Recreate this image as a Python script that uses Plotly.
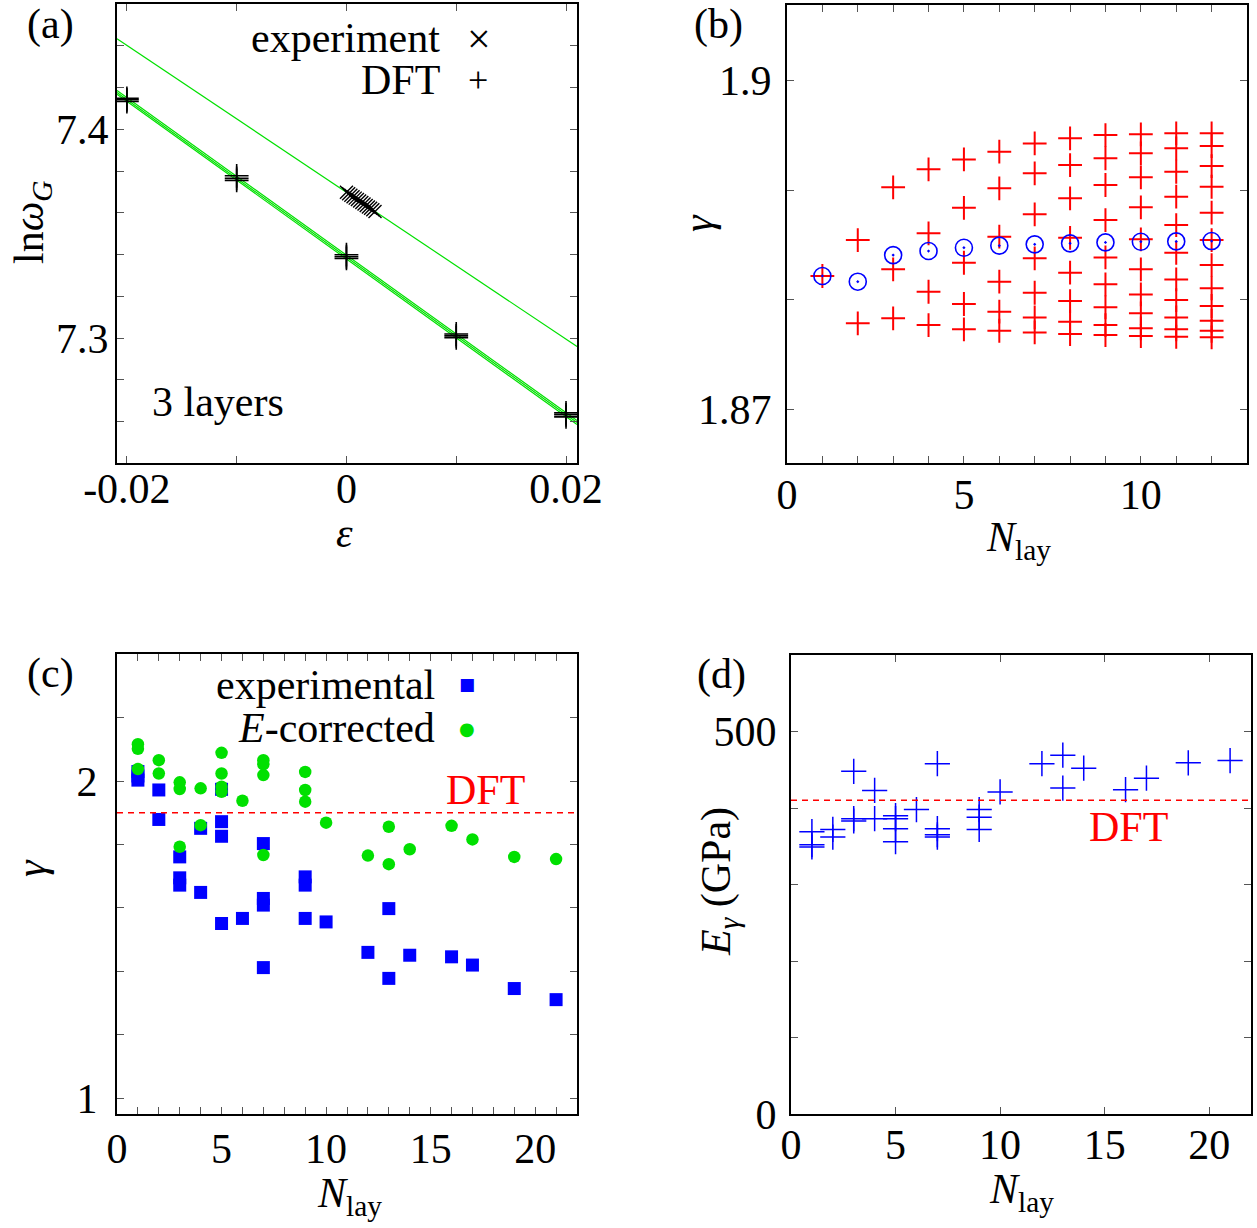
import numpy as np
import plotly.graph_objects as go

W, H = 1257, 1228
FONT = "Liberation Serif"
GREEN = "#00e000"

# ---------------- panel (a) data ----------------
strain = [-0.02, -0.01, 0.0, 0.01, 0.02]
dft_lnw_1 = [7.4149, 7.3778, 7.3400, 7.3020, 7.2642]
dft_lnw_2 = [7.4142, 7.3766, 7.3390, 7.3011, 7.2633]
dft_lnw_3 = [7.4134, 7.3756, 7.3382, 7.3002, 7.2623]
exp_strain = [0.0000, 0.0002, 0.0004, 0.0006, 0.0008, 0.0010, 0.0012,
              0.0014, 0.0016, 0.0018, 0.0020, 0.0022, 0.0024, 0.0026]
exp_lnw = [7.3699, 7.3692, 7.3685, 7.3678, 7.3671, 7.3664, 7.3657,
           7.3650, 7.3643, 7.3636, 7.3629, 7.3622, 7.3615, 7.3607]
exp_fit_intercept = 7.3699
exp_fit_slope = -3.52
eps_range = [-0.0209, 0.0210]

# ---------------- panel (b) data ----------------
nlay_b = [1, 2, 3, 4, 5, 6, 7, 8, 9, 10, 11, 12]
gamma_mean = [1.88215, 1.88163, 1.88406, 1.88443, 1.88473, 1.88492,
              1.88504, 1.88513, 1.88522, 1.88528, 1.88531, 1.88534]
gamma_modes = [
    [1.88215],
    [1.88543, 1.87783],
    [1.89025, 1.88276, 1.87828],
    [1.89189, 1.88605, 1.88071, 1.87767],
    [1.89280, 1.88838, 1.88336, 1.87959, 1.87728],
    [1.89350, 1.89016, 1.88574, 1.88163, 1.87889, 1.87715],
    [1.89426, 1.89153, 1.88778, 1.88376, 1.88062, 1.87837, 1.87700],
    [1.89472, 1.89228, 1.88924, 1.88564, 1.88245, 1.87986, 1.87797, 1.87685],
    [1.89502, 1.89290, 1.89046, 1.88726, 1.88385, 1.88139, 1.87929, 1.87767, 1.87676],
    [1.89509, 1.89335, 1.89116, 1.88842, 1.88550, 1.88276, 1.88047, 1.87874, 1.87737, 1.87667],
    [1.89518, 1.89381, 1.89167, 1.88939, 1.88680, 1.88427, 1.88184, 1.87995, 1.87837, 1.87728, 1.87660],
    [1.89518, 1.89402, 1.89219, 1.89030, 1.88793, 1.88543, 1.88315, 1.88102, 1.87941, 1.87806, 1.87715, 1.87655],
]

# ---------------- panel (c) data ----------------
nlay_exp = [1, 1, 1, 2, 2, 3, 3, 3, 4, 4, 5, 5, 5, 5, 6, 7, 7, 7, 7, 9, 9, 9,
            10, 12, 13, 13, 14, 16, 17, 19, 21]
gamma_exp = [2.030, 2.016, 2.003, 1.972, 1.879, 1.761, 1.695, 1.672, 1.851, 1.649,
             1.974, 1.872, 1.826, 1.551, 1.567, 1.803, 1.630, 1.609, 1.412,
             1.698, 1.672, 1.567, 1.556, 1.460, 1.598, 1.378, 1.451, 1.446,
             1.420, 1.346, 1.311]
nlay_corr = [1, 1, 1, 2, 2, 3, 3, 3, 4, 4, 5, 5, 5, 5, 6, 7, 7, 7, 7, 9, 9, 9,
             10, 12, 13, 13, 14, 16, 17, 19, 21]
gamma_corr = [2.116, 2.102, 2.038, 2.066, 2.024, 1.996, 1.975, 1.793, 1.977, 1.861,
              2.089, 2.024, 1.982, 1.966, 1.938, 2.066, 2.053, 2.019, 1.767,
              2.029, 1.972, 1.935, 1.869, 1.765, 1.856, 1.738, 1.785, 1.859,
              1.816, 1.761, 1.754]
gamma_dft = 1.90

# ---------------- panel (d) data ----------------
nlay_E = [1, 1, 1, 2, 2, 3, 3, 3, 4, 4, 5, 5, 5, 5, 6, 7, 7, 7, 7, 9, 9, 9,
          10, 12, 13, 13, 14, 16, 17, 19, 21]
E_gamma = [369, 352, 349, 372, 362, 448, 386, 383, 423, 386, 390, 386, 373, 356,
           398, 458, 373, 365, 362, 398, 388, 372, 421, 458, 469, 426, 452,
           424, 439, 459, 462]
E_dft = 410


def px(x):
    return x / W


def py(y):
    return 1 - y / H


fig = go.Figure()

# ---- (a) ----
xs_line = np.array(eps_range)
for ser in (dft_lnw_1, dft_lnw_2, dft_lnw_3):
    slope, icpt = np.polyfit(strain, ser, 1)
    fig.add_trace(go.Scatter(x=xs_line, y=icpt + slope * xs_line, mode="lines",
                             line=dict(color=GREEN, width=1.2), xaxis="x", yaxis="y",
                             showlegend=False, hoverinfo="skip"))
fig.add_trace(go.Scatter(x=xs_line, y=exp_fit_intercept + exp_fit_slope * xs_line,
                         mode="lines", line=dict(color=GREEN, width=1.2),
                         xaxis="x", yaxis="y", showlegend=False, hoverinfo="skip"))
for ser in (dft_lnw_1, dft_lnw_2, dft_lnw_3):
    fig.add_trace(go.Scatter(x=strain, y=ser, mode="markers",
                             marker=dict(symbol="cross-thin", size=17,
                                         line=dict(color="black", width=1.6)),
                             xaxis="x", yaxis="y", showlegend=False))
fig.add_trace(go.Scatter(x=exp_strain, y=exp_lnw, mode="markers",
                         marker=dict(symbol="x-thin", size=13,
                                     line=dict(color="black", width=1.4)),
                         xaxis="x", yaxis="y", showlegend=False))

# ---- (b) ----
for n, modes in zip(nlay_b, gamma_modes):
    fig.add_trace(go.Scatter(x=[n] * len(modes), y=modes, mode="markers",
                             marker=dict(symbol="cross-thin", size=17,
                                         line=dict(color="#ff0000", width=2)),
                             xaxis="x2", yaxis="y2", showlegend=False))
fig.add_trace(go.Scatter(x=nlay_b, y=gamma_mean, mode="markers",
                         marker=dict(symbol="circle-open-dot", size=17, color="#0000ff",
                                     line=dict(color="#0000ff", width=1.6)),
                         xaxis="x2", yaxis="y2", showlegend=False))

# ---- (c) ----
fig.add_trace(go.Scatter(x=nlay_exp, y=gamma_exp, mode="markers",
                         marker=dict(symbol="square", size=13, color="#0000ff"),
                         xaxis="x3", yaxis="y3", showlegend=False))
fig.add_trace(go.Scatter(x=nlay_corr, y=gamma_corr, mode="markers",
                         marker=dict(symbol="circle", size=12.5, color=GREEN),
                         xaxis="x3", yaxis="y3", showlegend=False))

# ---- (d) ----
fig.add_trace(go.Scatter(x=nlay_E, y=E_gamma, mode="markers",
                         marker=dict(symbol="cross-thin", size=18,
                                     line=dict(color="#0000ff", width=1.5)),
                         xaxis="x4", yaxis="y4", showlegend=False))

# DFT dashed lines
fig.add_shape(type="line", xref="x3 domain", yref="y3", x0=0, x1=1, y0=gamma_dft, y1=gamma_dft,
              line=dict(color="#ff0000", width=1.5, dash="6px,5px"))
fig.add_shape(type="line", xref="x4 domain", yref="y4", x0=0, x1=1, y0=E_dft, y1=E_dft,
              line=dict(color="#ff0000", width=1.5, dash="6px,5px"))

tickfont = dict(family=FONT, size=42, color="black")


def axis(domain, rng, tickvals, ticktext, anchor, standoff=6):
    return dict(domain=domain, range=rng, tickvals=tickvals, ticktext=ticktext,
                anchor=anchor, showline=True, linecolor="black", linewidth=2,
                mirror="allticks", ticks="inside", ticklen=7, tickwidth=1.3,
                tickcolor="#555555", showgrid=False, zeroline=False, automargin=False,
                tickfont=tickfont, ticklabelstandoff=standoff)


a_ytv = [7.26, 7.28, 7.30, 7.32, 7.34, 7.36, 7.38, 7.40, 7.42, 7.44]
a_ytt = ["", "", "7.3", "", "", "", "", "7.4", "", ""]
b_xtv = list(range(0, 14))
b_xtt = ["0", "", "", "", "", "5", "", "", "", "", "10", "", "", ""]
c_xtv = list(range(0, 23))
c_xtt = [str(v) if v % 5 == 0 else "" for v in c_xtv]
c_ytv = [1.0, 1.2, 1.4, 1.6, 1.8, 2.0, 2.2]
c_ytt = ["1", "", "", "", "", "2", ""]

fig.update_layout(
    template="none",
    width=W, height=H, margin=dict(l=0, r=0, t=0, b=0, pad=0),
    paper_bgcolor="white", plot_bgcolor="white", showlegend=False,
    font=dict(family=FONT, color="black"),
    xaxis=axis([px(117), px(577)], eps_range, [-0.02, -0.01, 0, 0.01, 0.02],
               ["-0.02", "", "0", "", "0.02"], "y", -12),
    yaxis=axis([py(463), py(4)], [7.2402, 7.4601], a_ytv, a_ytt, "x", -2),
    xaxis2=axis([px(787), px(1247)], [0, 13], b_xtv, b_xtt, "y2", -6),
    yaxis2=axis([py(463), py(5)], [1.86507, 1.9069], [1.87, 1.88, 1.89, 1.90],
                ["1.87", "", "", "1.9"], "x2", 5),
    xaxis3=axis([px(117), px(577)], [0, 22], c_xtv, c_xtt, "y3", -3),
    yaxis3=axis([py(1114), py(654)], [0.9505, 2.4006], c_ytv, c_ytt, "x3", 9),
    xaxis4=axis([px(791), px(1251)], [0, 22], [0, 5, 10, 15, 20],
                ["0", "5", "10", "15", "20"], "y4", -7),
    yaxis4=axis([py(1114), py(655)], [0, 600], [0, 100, 200, 300, 400, 500, 600],
                ["0", "", "", "", "", "500", ""], "x4", 4),
)


def ann(x, y, text, size=42, color="black", xanchor="center", angle=0, family=FONT):
    fig.add_annotation(x=px(x), y=py(y), xref="paper", yref="paper", text=text,
                       showarrow=False, xanchor=xanchor, yanchor="middle",
                       textangle=angle, font=dict(family=family, size=size, color=color))


# panel labels
ann(50, 24, "(a)")
ann(718, 24, "(b)")
ann(50, 673, "(c)")
ann(721, 674, "(d)")

# axis titles
ann(32, 222, "ln<i>ω</i><sub><i>G</i></sub>", angle=-90)
ann(344, 533, "<i>ε</i>")
ann(698, 223, "<i>γ</i>", angle=-90)
ann(1018, 540, "<i>N</i><sub>lay</sub>")
ann(31, 868, "<i>γ</i>", angle=-90)
ann(349, 1196, "<i>N</i><sub>lay</sub>")
ann(719, 882, "<i>E</i><sub><i>γ</i></sub> (GPa)", angle=-90)
ann(1021, 1192, "<i>N</i><sub>lay</sub>")

# legend (a)
ann(442, 38, "experiment", xanchor="right")
ann(479, 39, "×", size=42)
ann(442, 80, "DFT", xanchor="right")
ann(478, 80, "+", size=36)
ann(150, 402, "3 layers", xanchor="left")

# legend (c)
ann(437, 685, "experimental", xanchor="right")
ann(467, 684, "■", size=17, color="#0000ff", family="DejaVu Sans")
ann(437, 728, "<i>E</i>-corrected", xanchor="right")
ann(467, 728, "●", size=18, color=GREEN, family="DejaVu Sans")
ann(485, 790, "DFT", color="#ff0000")
ann(1128, 827, "DFT", color="#ff0000")

fig.write_html("out.html")
